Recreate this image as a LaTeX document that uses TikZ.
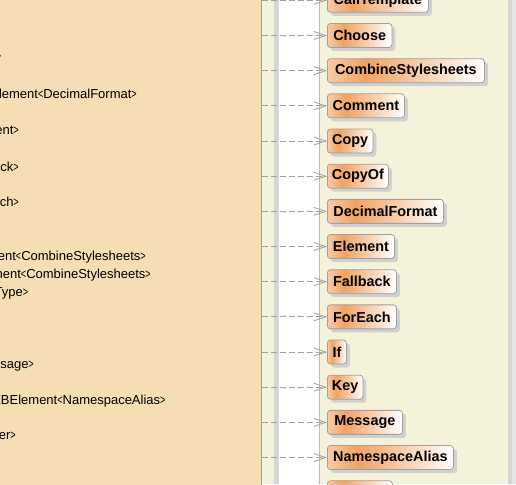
\documentclass[tikz,border=0pt]{standalone}
\usepackage{fontspec}
\setmainfont{Liberation Sans}
\usetikzlibrary{arrows.meta,shadows}

\definecolor{tanbg}{HTML}{F5DEB3}
\definecolor{creambg}{HTML}{F4F3DA}
\definecolor{oLight}{HTML}{F8CBA6}
\definecolor{oDark}{HTML}{F2A262}
\definecolor{boxline}{HTML}{A0A0A0}
\definecolor{dashcol}{HTML}{A0A0A0}
\definecolor{shadowcol}{HTML}{D0D0D0}
\definecolor{sepline}{HTML}{B4BCCC}
\definecolor{panelline}{HTML}{9C9C9C}
\definecolor{stripgray}{HTML}{D6D6D6}
\definecolor{stripgrayb}{HTML}{E4E4E4}

\newcommand{\mygt}{\scalebox{0.7}[1]{>}}
\newcommand{\mylt}{\scalebox{0.7}[1]{<}}

\pgfdeclarehorizontalshading{boxshade}{100bp}{color(0bp)=(oLight); color(25bp)=(oLight); color(37bp)=(oDark); color(75bp)=(white); color(100bp)=(white)}

\tikzset{
  cls/.style={draw=boxline, line width=0.8pt, rounded corners=3pt,
    shading=boxshade, minimum height=24pt, minimum width=#1, inner sep=0pt,
    anchor=west, text=black, font=\fontsize{14.4}{16}\selectfont\bfseries,
    drop shadow={shadow xshift=3.5pt, shadow yshift=-3.5pt, fill=shadowcol, opacity=1}},
  conn/.style={draw=dashcol, line width=0.8pt, dash pattern=on 6pt off 3pt,
    -{Straight Barb[length=12pt,width=8pt]}},
  lt/.style={anchor=base east, inner sep=0pt, text=black,
    font=\fontsize{13}{15}\selectfont}
}

\begin{document}
\begin{tikzpicture}[x=1pt,y=-1pt]
\useasboundingbox (0,0) rectangle (516,484);
\clip (0,0) rectangle (516,484);

% backgrounds
\fill[creambg] (0,0) rectangle (516,484);
\fill[stripgray] (274,0) rectangle (279,484);
\fill[white] (279,0) rectangle (319,484);
\draw[sepline, line width=1pt] (319.5,0) -- (319.5,484);
\fill[stripgray] (508,0) rectangle (512,484);
\fill[stripgrayb] (512,0) rectangle (516,484);

% left panel
\node[fill=tanbg, draw=panelline, line width=1pt, minimum width=281pt,
      minimum height=540pt, inner sep=0pt, anchor=north east] (lp) at (261.5,-20) {};

% left panel texts
\node[lt] (t0) at (1.5,60.4) {\mygt};
\node[lt] (t1) at (137,98.4) {lement\mylt DecimalFormat\mygt};
\node[lt] (t2) at (19,134) {ent\mygt};
\node[lt] (t3) at (19,171.6) {ck\mygt};
\node[lt] (t4) at (19,206.6) {ch\mygt};
\node[lt] (t5) at (146,260.6) {ent\mylt CombineStylesheets\mygt};
\node[lt] (t6) at (151,278.2) {nent\mylt CombineStylesheets\mygt};
\node[lt] (t7) at (28.3,296.6) {Type\mygt};
\node[lt] (t8) at (34,368.2) {sage\mygt};
\node[lt] (t9) at (165.7,404.2) {XBElement\mylt NamespaceAlias\mygt};
\node[lt] (t10) at (16,439.9) {er\mygt};

% class boxes
\node[cls=101]  (b0)  at (327,0.33)   {CallTemplate};
\node[cls=64.5] (b1)  at (327,35.5)   {Choose};
\node[cls=157]  (b2)  at (327,70.67)  {CombineStylesheets};
\node[cls=77]   (b3)  at (327,105.84) {Comment};
\node[cls=45.5] (b4)  at (327,141.01) {Copy};
\node[cls=61]   (b5)  at (327,176.18) {CopyOf};
\node[cls=116]  (b6)  at (327,211.35) {DecimalFormat};
\node[cls=67]   (b7)  at (327,246.52) {Element};
\node[cls=69]   (b8)  at (327,281.69) {Fallback};
\node[cls=69]   (b9)  at (327,316.86) {ForEach};
\node[cls=19]   (b10) at (327,352.03) {If};
\node[cls=35.5] (b11) at (327,387.2)  {Key};
\node[cls=75]   (b12) at (327,422.37) {Message};
\node[cls=126]  (b13) at (327,457.54) {NamespaceAlias};
\node[cls=65]   (b14) at (327,492.71) {};

% connectors
\foreach \i in {0,...,14}{
  \draw[conn] (lp.east |- b\i.west) -- (b\i.west);
}
\end{tikzpicture}
\end{document}
